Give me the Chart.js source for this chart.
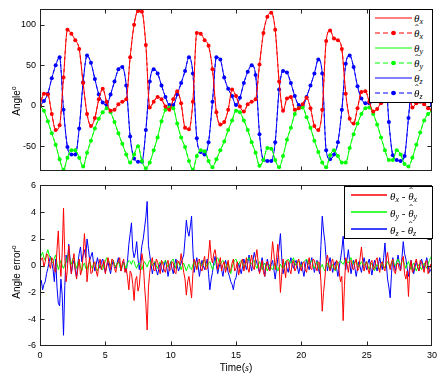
<!DOCTYPE html>
<html>
<head>
<meta charset="utf-8">
<script src="https://cdn.jsdelivr.net/npm/chart.js@4"></script>
<style>
  body { margin: 0; background: #fff; width: 443px; height: 376px; overflow: hidden; position: relative; font-family: "Liberation Sans", Arial, sans-serif; }
  canvas { position: absolute; left: 0; }
  #cTop { top: 0; }
  #cBot { top: 176px; }
  .leg { position: absolute; background: #fff; border: 1px solid #000; box-sizing: border-box; }
  .leg svg { position: absolute; }
  .lab { position: absolute; font-family: "Liberation Serif", "DejaVu Serif", serif; font-style: italic; font-size: 11px; line-height: 14px; white-space: nowrap; }
  .lab sub { font-size: 8px; vertical-align: -2px; }
  .h { position: relative; display: inline-block; }
  .h::before { content: "\02C6"; position: absolute; left: 1px; top: -5px; font-style: normal; }
  .ytitle { position: absolute; font-size: 10px; white-space: nowrap; transform: translate(-50%, -50%) rotate(-90deg); }
  .ytitle sup { font-size: 7px; }
  .xtitle { position: absolute; font-size: 10px; white-space: nowrap; transform: translate(-50%, -50%); }
</style>
</head>
<body>
<canvas id="cTop" width="443" height="180"></canvas>
<canvas id="cBot" width="443" height="200"></canvas>

<div class="ytitle" style="left:16px;top:101px">Angle<sup>o</sup></div>
<div class="ytitle" style="left:16px;top:272px">Angle error<sup>o</sup></div>
<div class="xtitle" style="left:236px;top:367px">Time(<i style="font-family:'Liberation Serif',serif">s</i>)</div>

<div class="leg" id="legTop" style="left:369px;top:9px;width:64px;height:94px"></div>
<div class="leg" id="legBot" style="left:344px;top:186px;width:89px;height:53px"></div>

<script>
// angles, sampled every 0.3 s (marker spacing of the estimates)
const stepTop = 0.3;
const thetaX = [0, 15, 14, -10, -30, -24, 35, 94, 89, 81,
  70, 28, -10, -25, -15, 8, 21, 5, -6, -5,
  2, 5, 8, 60, 100, 117, 116, 75, -2, 5,
  11, 8, -1, -5, 8, 18, 3, -27, -29, 5,
  90, 89, 81, 74, 45, -8, -23, -20, -5, 20,
  12, -1, -7, 2, 5, 8, 51, 90, 110, 115,
  94, 30, -6, 9, 11, -5, -3, 2, 10, -3,
  -25, -30, -5, 80, 93, 83, 81, 70, 15, -16,
  -22, -3, 17, 18, 5, -7, -4, 3, 6, 40,
  88, 110, 117, 100, 30, -2, 3, 5, 2, -3,
  -5];
const thetaY = [0, -6, -19, -34, -48, -66, -79, -64, -55, -55,
  -64, -75, -58, -43, -28, -16, -8, -3, -8, -20,
  -34, -47, -60, -70, -60, -50, -68, -77, -70, -55,
  -39, -19, -5, -2, -3, -22, -39, -51, -68, -79,
  -62, -55, -56, -68, -76, -66, -55, -44, -30, -18,
  -6, -8, -18, -30, -45, -58, -74, -67, -52, -53,
  -67, -76, -62, -42, -27, -10, -3, -2, -14, -27,
  -43, -57, -70, -76, -61, -55, -62, -70, -70, -52,
  -35, -22, -10, -3, -2, -10, -23, -39, -55, -67,
  -67, -55, -60, -72, -75, -64, -48, -33, -18, -10,
  -6];
const thetaZ = [0, 6, 15, 34, 50, 60, -5, -51, -60, -60,
  -28, 29, 62, 53, 33, 14, 4, 1, 14, 30,
  45, 48, 25, -38, -65, -69, -69, -30, 30, 45,
  40, 25, 11, 1, 1, 14, 28, 43, 60, 40,
  -40, -57, -60, -45, 5, 60, 57, 35, 21, 12,
  1, 10, 28, 42, 50, 38, -35, -67, -68, -68,
  -45, 20, 43, 41, 28, 12, 1, 0, 11, 25,
  40, 57, 40, -55, -66, -60, -45, -5, 52, 62,
  48, 24, 9, 3, 3, 10, 25, 40, 45, -20,
  -61, -67, -68, -62, -15, 35, 43, 35, 22, 8,
  0];

// estimation errors, sampled every 0.1 s
const stepBot = 0.1;
const errX = [
  0.2, 0.5, 0.6, -0.1, 0.3, 0.9, 0.8, 0.1, -0.2, 0.6, 0.4, -0.3, -0.5, 1.2, 2.6, 0.4, -0.8, 1.0, 4.3, 0.6,
  -1.2, -0.2, 1.5, 0.2, -0.6, 0.3, 0.9, -0.4, -1.0, -0.2, 0.5, -0.7, -0.3, 0.8, 2.4, 1.0, -1.2, -0.1, 0.6, -0.6,
  -0.5, 0.2, 0.3, -0.4, -0.8, 0.1, 0.5, -0.3, 0.1, 0.4, -0.6, -0.1, 0.6, 0.2, -0.3, 0.5, 0.4, -0.2, -0.5, 0.1,
  0.3, 0.6, -0.4, 0.2, 0.5, -0.5, -0.2, -0.9, -1.8, -0.4, -0.6, -1.4, -2.6, -1.1, -0.8, -1.9, -1.5, -0.2, 0.9, 0.3,
  -1.5, -2.8, -4.8, -1.6, -0.5, 0.2, 0.6, -0.3, -0.4, 0.5, 0.3, -0.2, -0.6, 0.4, 0.2, -0.3, -0.5, 0.1, 0.4, -0.4,
  -0.3, 0.3, 0.2, -0.5, -0.6, 0.4, 0.3, 0.1, 0.9, 0.2, -0.5, -1.0, -2.2, -1.2, -0.8, -1.6, -2.4, -0.6, 0.5, 0.2,
  -0.3, 0.4, 0.5, -0.2, -0.4, 0.3, 0.7, -0.3, -0.2, 0.8, 1.9, 0.6, 0.2, 0.9, 1.2, 0.5, -0.3, 0.2, 0.6, -0.4,
  0.1, 0.3, -0.5, -0.1, 0.4, -0.5, -0.3, 0.2, 0.5, -0.4, -0.2, 0.3, -0.7, -0.2, 0.3, 0.5, -0.4, 0.1, 0.6, -0.2,
  -0.5, 0.3, 0.8, -0.1, -0.3, 0.6, 1.2, 0.2, -0.6, -0.2, 0.4, -0.5, -0.8, 0.2, 0.3, -0.3, -0.4, 0.5, 1.8, 0.9,
  -0.3, 0.6, 1.6, 0.2, -2.0, -0.7, 0.5, -0.2, -0.9, 0.4, 0.3, -0.3, -0.6, 0.2, 0.4, -0.4, -0.2, 0.3, 0.5, -0.1,
  -0.4, 0.2, 0.3, -0.3, -0.5, 0.1, 0.6, -0.2, -0.3, 0.5, 0.4, -0.1, -0.4, 0.3, 0.2, -1.2, -3.4, -2.0, -1.0, 0.3,
  0.8, 0.1, -0.4, 0.3, 0.5, -0.2, -0.3, 0.4, 0.2, -0.5, -1.2, -0.8, -4.1, -1.5, 0.6, 0.1, -0.5, 0.3, 0.4, -0.2,
  -0.3, 0.2, 0.5, -0.4, -0.2, 0.6, 1.4, 0.3, -0.4, 0.1, 0.3, -0.3, -0.6, 0.2, 0.4, -0.3, -0.2, 0.4, 0.6, -0.1,
  -0.5, 0.2, 0.3, -0.2, -0.4, 0.5, 1.0, 0.2, -0.3, 0.3, 0.5, -0.4, -0.6, 0.1, 0.2, -0.3, -0.4, 0.4, 0.7, -0.6,
  -1.0, -0.4, -2.3, -0.2, 0.4, -0.5, -0.3, 0.2, 0.5, -0.1, -0.4, 0.4, 0.3, -0.2, -0.5, 0.3, 0.4, -0.6, -0.3, 0.1, -0.4];
const errY = [
  0.5, 0.8, 1.0, 0.6, 0.4, 0.9, 1.2, 0.8, 0.6, 0.3, 0.2, 0.6, 0.8, 0.2, -0.3, 0.1, 0.4, 0.0, -0.2, 0.1,
  0.3, 0.7, 0.9, 0.4, 0.1, 0.5, 0.6, 0.1, -0.2, 0.2, 0.4, -0.1, -0.4, 0.0, 0.2, -0.2, -0.3, 0.1, 0.3, 0.0,
  -0.2, 0.1, 0.2, -0.2, -0.4, -0.1, 0.1, -0.2, -0.3, 0.1, 0.3, 0.6, 0.5, 0.2, 0.0, 0.3, 0.4, 0.1, -0.1, 0.2,
  0.3, 0.0, -0.3, 0.0, 0.2, 0.0, -0.2, 0.2, 0.4, 0.3, 0.1, 0.4, 0.3, 0.0, -0.2, 0.1, 0.2, 0.0, -0.3, 0.1,
  0.3, 0.1, -0.1, 0.2, 0.4, 0.2, 0.0, 0.2, 0.3, 0.0, -0.2, 0.1, 0.3, 0.2, 0.1, 0.3, 0.4, 0.1, -0.1, 0.1,
  0.2, 0.4, 0.5, 0.1, -0.2, 0.1, 0.3, 0.0, -0.3, 0.0, 0.2, -0.1, -0.4, -0.1, 0.1, -0.2, -0.3, 0.1, 0.3, 0.0,
  -0.2, 0.1, 0.3, 0.1, 0.0, 0.3, 0.4, 0.1, -0.1, 0.2, 0.3, 0.0, -0.3, 0.0, 0.2, 0.5, 0.6, 0.3, 0.1, 0.3,
  0.4, 0.1, -0.2, 0.1, 0.3, -0.2, -0.6, -0.1, 0.2, 0.4, 0.5, 0.2, 0.1, 0.3, 0.4, 0.1, -0.2, 0.1, 0.3, 0.5,
  0.6, 0.3, 0.1, 0.3, 0.4, 0.0, -0.2, 0.1, 0.3, 0.0, -0.3, 0.0, 0.2, -0.1, -0.4, -0.1, 0.1, -0.2, -0.3, 0.0,
  0.2, -0.1, -0.4, -0.1, 0.1, -0.1, -0.2, 0.1, 0.3, 0.4, 0.5, 0.3, 0.2, 0.4, 0.6, 0.2, 0.0, 0.2, 0.4, 0.1,
  -0.1, 0.2, 0.3, 0.4, 0.5, 0.2, 0.1, 0.3, 0.4, 0.0, -0.2, 0.1, 0.3, 0.0, -0.3, -0.1, 0.1, -0.2, -0.4, 0.0,
  0.2, -0.1, -0.3, -0.1, 0.1, -0.2, -0.4, 0.0, 0.2, 0.3, 0.4, 0.2, 0.1, 0.3, 0.5, 0.3, 0.2, 0.4, 0.6, 0.3,
  0.1, 0.3, 0.4, 0.1, -0.1, 0.1, 0.3, 0.1, 0.0, 0.2, 0.3, 0.0, -0.3, 0.0, 0.2, -0.1, -0.4, -0.1, 0.1, -0.1,
  -0.3, 0.0, 0.2, 0.0, -0.2, 0.1, 0.3, 0.1, -0.1, 0.2, 0.4, 0.1, 0.0, 0.3, 0.5, 0.2, 0.1, 0.3, 0.4, 0.1,
  -0.2, 0.1, 0.3, 0.0, -0.3, 0.0, 0.2, -0.1, -0.4, -0.1, 0.1, -0.1, -0.3, 0.0, 0.2, 0.0, -0.2, 0.1, 0.4, 0.6, 0.8];
const errZ = [
  -1.5, -1.1, -1.8, -1.4, -1.2, -0.6, -0.2, 0.3, 0.7, 0.2, -0.3, -1.2, 0.5, -1.6, -2.8, -3.0, -1.0, -2.2, -5.2, -1.5,
  0.8, 0.2, 1.6, 0.5, -0.6, 0.1, 0.4, -0.3, -0.8, 0.2, 0.9, 1.4, 0.3, 0.8, 1.2, 0.6, 2.0, 1.3, 0.4, 0.7,
  1.0, 0.2, -0.4, 0.1, 0.6, 0.1, -0.2, 0.3, 0.5, -0.1, -0.5, 0.0, 0.3, -0.2, -0.6, 0.0, 0.4, 0.1, -0.2, 0.2,
  0.6, 0.1, -0.4, 0.0, 0.3, -0.1, -0.5, 0.4, 1.6, 2.4, 3.2, 1.2, 0.6, 1.0, 1.8, 0.5, -0.3, 0.6, 1.5, 2.0,
  2.8, 3.6, 4.8, 1.5, 0.8, 0.1, -0.6, -0.1, 0.3, -0.3, -0.7, -0.2, 0.2, -0.2, -0.5, 0.0, 0.4, -0.1, -0.8, -0.2,
  0.3, -0.2, -0.6, 0.0, 0.5, 0.0, -0.4, -0.1, 0.2, 0.5, 0.8, 2.0, 3.4, 2.6, 2.2, 2.9, 3.7, 1.2, -0.5, 0.1,
  0.6, 0.0, -0.8, -0.1, 0.4, 0.0, -0.3, 0.1, 0.5, -0.6, -1.8, -1.0, -0.5, 0.2, 0.7, 0.0, -0.6, -0.1, 0.2, -0.3,
  -0.8, -0.1, 0.4, 0.0, -0.5, -0.8, -1.2, -1.4, -1.8, -1.1, -0.9, -0.3, 0.2, -0.2, -0.6, -0.1, 0.5, 0.1, -0.3, 0.2,
  0.8, 0.1, -0.4, 0.4, 1.0, 0.5, 0.2, -0.2, -0.5, 0.1, 0.6, 0.0, -0.8, -0.1, 0.5, 0.0, -0.3, 0.1, 0.4, -0.3,
  -1.0, -0.2, 0.5, 1.4, 2.4, 0.6, -0.6, -0.1, 0.3, -0.2, -0.5, 0.1, 0.6, 0.1, -0.2, 0.2, 0.4, -0.1, -0.6, -0.1,
  0.3, -0.3, -0.8, -0.1, 0.5, 0.0, -0.3, 0.2, 0.6, 0.0, -0.5, 0.0, 0.4, -0.2, -0.6, 1.5, 3.7, 2.6, 1.8, 0.5,
  -0.4, 0.2, 0.6, 0.0, -0.5, 0.0, 0.3, -0.2, -0.8, -0.1, 0.5, 1.2, 2.2, 0.6, -0.3, 0.5, 1.2, 0.3, -0.6, -0.1,
  0.4, -0.2, -0.8, -0.2, 0.3, -0.1, -0.5, 0.1, 0.6, 0.1, -0.3, 0.2, 0.5, -0.1, -0.7, -0.1, 0.4, 0.0, -0.4, 0.1,
  0.6, 0.1, -0.3, 0.6, 1.7, 0.2, -1.0, -1.6, -2.4, -0.6, 0.6, 0.1, -0.4, 0.2, 0.8, 0.2, -0.3, 0.6, 1.8, 0.9,
  0.5, -0.2, -0.8, -0.1, 0.4, -0.1, -0.6, -0.1, 0.3, -0.1, -0.4, 0.1, 0.5, 0.1, -0.3, 0.2, 0.6, 0.0, -0.5, -0.3, -0.2];

const xTicks = [0, 5, 10, 15, 20, 25, 30];
const yTicksTop = [-50, 0, 50, 100];
const yTicksBot = [-6, -4, -2, 0, 2, 4, 6];

const RED = '#ff0000', GREEN = '#00ff00', BLUE = '#0000ff';

const pts = (vals, step) => vals.map((v, i) => ({ x: +(i * step).toFixed(2), y: v }));

Chart.defaults.font.family = '"Liberation Sans", Arial, sans-serif';
Chart.defaults.font.size = 9;
Chart.defaults.color = '#000';

// box round the axes with inward ticks on all four sides, like matlab
const framePlugin = {
  id: 'frame',
  afterDatasetsDraw(chart) {
    const { ctx, chartArea: a, scales } = chart;
    const l = Math.round(a.left) + 0.5, r = Math.round(a.right) - 0.5;
    const t = Math.round(a.top) + 0.5, b = Math.round(a.bottom) - 0.5;
    ctx.save();
    ctx.strokeStyle = '#222';
    ctx.lineWidth = 1;
    ctx.beginPath();
    scales.x.ticks.forEach(tk => {
      const px = Math.round(scales.x.getPixelForValue(tk.value)) + 0.5;
      if (px <= l + 1 || px >= r - 1) return;
      ctx.moveTo(px, b); ctx.lineTo(px, b - 4);
      ctx.moveTo(px, t); ctx.lineTo(px, t + 4);
    });
    scales.y.ticks.forEach(tk => {
      const py = Math.round(scales.y.getPixelForValue(tk.value)) + 0.5;
      if (py <= t + 1 || py >= b - 1) return;
      ctx.moveTo(l, py); ctx.lineTo(l + 4, py);
      ctx.moveTo(r, py); ctx.lineTo(r - 4, py);
    });
    ctx.stroke();
    ctx.strokeRect(l, t, r - l, b - t);
    ctx.restore();
  }
};

const setTicks = list => scale => { scale.ticks = list.map(v => ({ value: v })); };

function truth(vals, color) {
  return { data: pts(vals, stepTop), borderColor: color, borderWidth: 1, pointRadius: 0,
    cubicInterpolationMode: 'monotone' };
}
function estimate(vals, color) {
  return { data: pts(vals, stepTop), borderColor: color, borderWidth: 1, borderDash: [3, 3],
    pointRadius: 2, pointBackgroundColor: color, pointBorderWidth: 0, cubicInterpolationMode: 'monotone' };
}
function errLine(vals, color) {
  return { data: pts(vals, stepBot), borderColor: color, borderWidth: 1, pointRadius: 0, tension: 0 };
}

new Chart(document.getElementById('cTop'), {
  type: 'line',
  data: {
    datasets: [
      truth(thetaX, RED), estimate(thetaX, RED),
      truth(thetaY, GREEN), estimate(thetaY, GREEN),
      truth(thetaZ, BLUE), estimate(thetaZ, BLUE)
    ]
  },
  options: {
    responsive: false, animation: false, devicePixelRatio: 1,
    layout: { padding: { top: 9, right: 11, bottom: 6, left: 0 } },
    plugins: { legend: { display: false }, tooltip: { enabled: false } },
    scales: {
      x: { type: 'linear', min: 0, max: 30, afterBuildTicks: setTicks(xTicks),
        ticks: { display: false }, grid: { display: false, drawTicks: false }, border: { display: false },
        afterFit: s => { s.height = 0; } },
      y: { type: 'linear', min: -80, max: 119, afterBuildTicks: setTicks(yTicksTop),
        ticks: { padding: 4 }, grid: { display: false, drawTicks: false }, border: { display: false },
        afterFit: s => { s.width = 40; } }
    }
  },
  plugins: [framePlugin]
});

new Chart(document.getElementById('cBot'), {
  type: 'line',
  data: {
    datasets: [errLine(errX, RED), errLine(errY, GREEN), errLine(errZ, BLUE)]
  },
  options: {
    responsive: false, animation: false, devicePixelRatio: 1,
    layout: { padding: { top: 5, right: 11, bottom: 0, left: 0 } },
    plugins: { legend: { display: false }, tooltip: { enabled: false } },
    scales: {
      x: { type: 'linear', min: 0, max: 30, afterBuildTicks: setTicks(xTicks),
        ticks: { padding: 4, maxRotation: 0 }, grid: { display: false, drawTicks: false }, border: { display: false },
        afterFit: s => { s.height = 30; } },
      y: { type: 'linear', min: -6, max: 6, afterBuildTicks: setTicks(yTicksBot),
        ticks: { padding: 4 }, grid: { display: false, drawTicks: false }, border: { display: false },
        afterFit: s => { s.width = 40; } }
    }
  },
  plugins: [framePlugin]
});

// html legends (subscripts and hats need real markup)
const th = s => `θ<sub>${s}</sub>`;
const thHat = s => `<span class="h">θ</span><sub>${s}</sub>`;
const topLegend = [
  { color: RED, dash: false, text: th('x') },
  { color: RED, dash: true, text: thHat('x') },
  { color: GREEN, dash: false, text: th('y') },
  { color: GREEN, dash: true, text: thHat('y') },
  { color: BLUE, dash: false, text: th('z') },
  { color: BLUE, dash: true, text: thHat('z') }
];
const botLegend = [
  { color: RED, text: th('x') + ' - ' + thHat('x') },
  { color: GREEN, text: th('y') + ' - ' + thHat('y') },
  { color: BLUE, text: th('z') + ' - ' + thHat('z') }
];

let html = '';
topLegend.forEach((e, i) => {
  const cy = 7.5 + 15 * i;
  html += `<svg width="37" height="6" style="left:5px;top:${cy - 3}px">` +
    `<line x1="0" y1="3" x2="37" y2="3" stroke="${e.color}" stroke-width="1"${e.dash ? ' stroke-dasharray="5,3"' : ''}/>` +
    (e.dash ? `<circle cx="18.5" cy="3" r="2.3" fill="${e.color}"/>` : '') + '</svg>';
  html += `<div class="lab" style="left:44px;top:${cy - 7}px">${e.text}</div>`;
});
document.getElementById('legTop').innerHTML = html;

html = '';
botLegend.forEach((e, i) => {
  const cy = 8 + 17 * i;
  html += `<svg width="36" height="4" style="left:6px;top:${cy - 2}px">` +
    `<line x1="0" y1="2" x2="36" y2="2" stroke="${e.color}" stroke-width="1.6"/></svg>`;
  html += `<div class="lab" style="left:45px;top:${cy - 6}px">${e.text}</div>`;
});
document.getElementById('legBot').innerHTML = html;
</script>
</body>
</html>
